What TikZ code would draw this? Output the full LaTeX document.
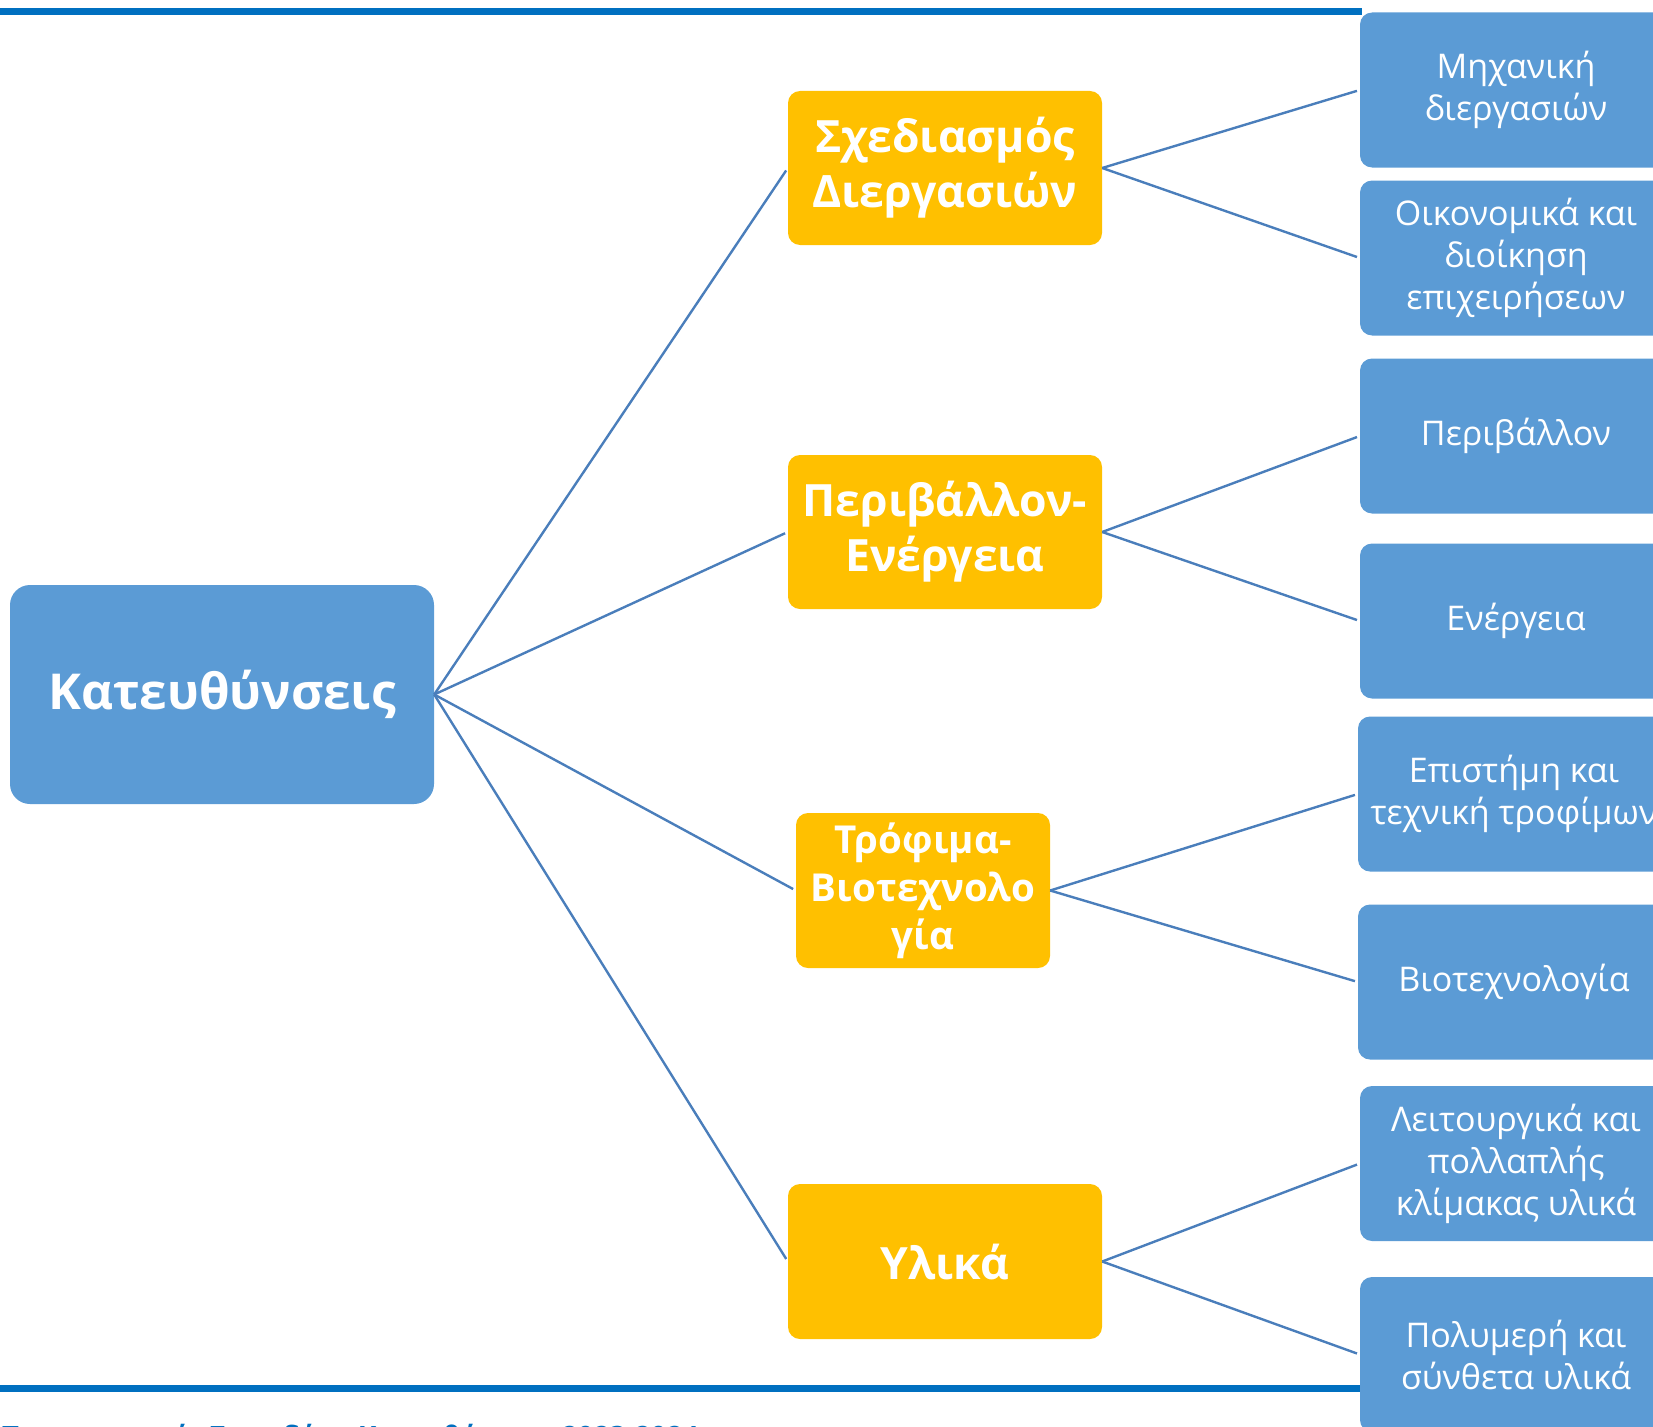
\documentclass[tikz,border=0pt]{standalone}
\usepackage{fontspec}
\setmainfont{Open Sans}
\usepackage{tikz}
\usepackage{xcolor}
\usetikzlibrary{positioning, arrows.meta}

\definecolor{barblue}{HTML}{0070C0}
\definecolor{boxblue}{HTML}{5B9BD5}
\definecolor{boxgold}{HTML}{FFC000}
\definecolor{linkblue}{HTML}{4A7EBB}

\begin{document}
\begin{tikzpicture}[
  x=1pt, y=-1pt,
  rootbox/.style={
    rectangle,
    fill=boxblue,
    rounded corners=20pt,
    align=center,
    inner sep=0pt,
    minimum width=424pt,
    minimum height=219pt,
    text=white,
    font=\bfseries\fontsize{49.5}{60}\selectfont,
  },
  branch/.style={
    rectangle,
    fill=boxgold,
    rounded corners=12pt,
    align=center,
    inner sep=0pt,
    minimum width=314pt,
    minimum height=154pt,
    text=white,
    font=\bfseries\fontsize{44.5}{55}\selectfont,
  },
  leaf/.style={
    rectangle,
    fill=boxblue,
    rounded corners=12pt,
    align=center,
    inner sep=0pt,
    minimum width=312pt,
    minimum height=155pt,
    text=white,
    font=\fontsize{34}{42}\selectfont,
  },
  link/.style={draw=linkblue, line width=2.4pt, shorten >=3pt},
  bar/.style={draw=barblue, line width=6.5pt},
]
\useasboundingbox (0,0) rectangle (1653,1426);

% frame lines
\coordinate (topL) at (0,11.5);
\coordinate (topR) at (1362,11.5);
\coordinate (botL) at (0,1388.5);
\coordinate (botR) at (1362,1388.5);
\draw[bar] (topL) -- (topR);
\draw[bar] (botL) -- (botR);

\node[anchor=base west, inner sep=0pt, text=barblue,
  font=\bfseries\fontsize{28}{32}\selectfont] (footer) at (0,1446)
  {Προπτυχιακές Σπουδές -- Κατευθύνσεις 2023-2024};

% root
\node[rootbox] (root) at (222,694.5) {Κατευθύνσεις};

% directions
\node[branch] (design) at (945,168) {Σχεδιασμός\\Διεργασιών};
\node[branch] (envir) at (945,532) {Περιβάλλον-\\Ενέργεια};
\node[branch, minimum width=254pt, minimum height=155pt,
  font=\bfseries\fontsize{38.5}{48}\selectfont] (food) at (923,890.5)
  {Τρόφιμα-\\Βιοτεχνολο\\γία};
\node[branch, minimum height=155pt] (mater) at (945,1261.5) {Υλικά};

% specialisations
\node[leaf] (mech) at (1516,90) {Μηχανική\\διεργασιών};
\node[leaf] (econ) at (1516,258) {Οικονομικά και\\διοίκηση\\επιχειρήσεων};
\node[leaf] (envl) at (1516,436) {Περιβάλλον};
\node[leaf] (enrg) at (1516,621) {Ενέργεια};
\node[leaf] (foodsci) at (1514,794) {Επιστήμη και\\τεχνική τροφίμων};
\node[leaf] (biot) at (1514,982) {Βιοτεχνολογία};
\node[leaf] (func) at (1516,1163.5) {Λειτουργικά και\\πολλαπλής\\κλίμακας υλικά};
\node[leaf] (poly) at (1516,1354.5) {Πολυμερή και\\σύνθετα υλικά};

% connectors
\foreach \g in {design, envir, food, mater}
  \draw[link] (root.east) -- (\g.west);
\draw[link] (design.east) -- (mech.west);
\draw[link] (design.east) -- (econ.west);
\draw[link] (envir.east) -- (envl.west);
\draw[link] (envir.east) -- (enrg.west);
\draw[link] (food.east) -- (foodsci.west);
\draw[link] (food.east) -- (biot.west);
\draw[link] (mater.east) -- (func.west);
\draw[link] (mater.east) -- (poly.west);
\end{tikzpicture}
\end{document}
